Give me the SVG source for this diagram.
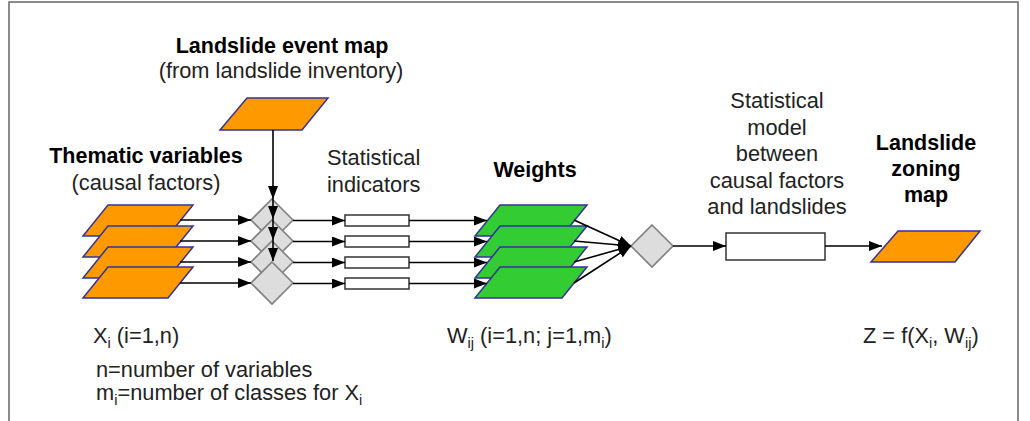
<svg xmlns="http://www.w3.org/2000/svg" width="1030" height="421" viewBox="0 0 1030 421">
<defs>
<marker id="ah" markerUnits="userSpaceOnUse" markerWidth="13" markerHeight="10" refX="13" refY="5" orient="auto">
<path d="M0,0 L13,5 L0,10 z" fill="#000"/>
</marker>
<style>
.or{fill:#FF9900;stroke:#333399;stroke-width:1.5}
.gr{fill:#33CC33;stroke:#333399;stroke-width:1.5}
.dm{fill:#DDDDDD;stroke:#808080;stroke-width:1.6}
.bx{fill:#fff;stroke:#333;stroke-width:1.5}
.cn{stroke:#000;stroke-width:1.6;fill:none;marker-end:url(#ah)}
text{font-family:"Liberation Sans",Arial,sans-serif;font-size:21.8px;fill:#222}
.b{font-weight:bold;font-size:21.5px;fill:#000}
.m{text-anchor:middle}
.s{font-size:14.5px}
</style>
</defs>
<rect width="1030" height="421" fill="#fff"/>
<path d="M9,421 V2 H1018 V421" fill="none" stroke="#666" stroke-width="1.5"/>

<g id="event-map">
<polygon class="or" points="247,98 328,98 302,130 220,130"/>
<text class="b m" x="282" y="53">Landslide event map</text>
<text class="m" x="281" y="78">(from landslide inventory)</text>
</g>

<g id="thematic">
<polygon class="or" points="108,205 193,205 168,236 83,236"/>
<polygon class="or" points="108,226 193,226 168,257 83,257"/>
<polygon class="or" points="108,247 193,247 168,278 83,278"/>
<polygon class="or" points="108,267 193,267 168,298 83,298"/>
<text class="b m" x="146" y="163">Thematic variables</text>
<text class="m" x="146" y="190">(causal factors)</text>
</g>

<g id="overlay-diamonds">
<polygon class="dm" points="272,199 293,220 272,241 251,220"/>
<polygon class="dm" points="272,220 293,241 272,262 251,241"/>
<polygon class="dm" points="272,241 293,262 272,283 251,262"/>
<polygon class="dm" points="272,262 293,283 272,304 251,283"/>
</g>

<g id="indicators">
<rect class="bx" x="345" y="215" width="64" height="11"/>
<rect class="bx" x="345" y="236" width="64" height="11"/>
<rect class="bx" x="345" y="257" width="64" height="11"/>
<rect class="bx" x="345" y="278" width="64" height="11"/>
<text x="327" y="165">Statistical</text>
<text x="327" y="192">indicators</text>
</g>

<g id="weights">
<polygon class="gr" points="500,205 587,205 562,236 475,236"/>
<polygon class="gr" points="500,226 587,226 562,257 475,257"/>
<polygon class="gr" points="500,247 587,247 562,278 475,278"/>
<polygon class="gr" points="500,267 587,267 562,298 475,298"/>
<text class="b m" x="535" y="177">Weights</text>
</g>

<g id="combine">
<polygon class="dm" points="652,225 673,246 652,267 631,246"/>
</g>

<g id="model">
<rect class="bx" x="726" y="233" width="99" height="27"/>
<text class="m" x="777" y="108">Statistical</text>
<text class="m" x="777" y="134.5">model</text>
<text class="m" x="777" y="161">between</text>
<text class="m" x="777" y="187.5">causal factors</text>
<text class="m" x="777" y="214">and landslides</text>
</g>

<g id="zoning">
<polygon class="or" points="898,231 980,231 955,262 871,262"/>
<text class="b m" x="926" y="150">Landslide</text>
<text class="b m" x="926" y="176">zoning</text>
<text class="b m" x="926" y="202">map</text>
</g>

<g id="connectors">
<line class="cn" x1="273" y1="130" x2="273" y2="199"/>
<line class="cn" x1="273" y1="199" x2="273" y2="219"/>
<line class="cn" x1="273" y1="219" x2="273" y2="240"/>
<line class="cn" x1="273" y1="240" x2="273" y2="261"/>
<line class="cn" x1="180" y1="220" x2="251" y2="220"/>
<line class="cn" x1="180" y1="241" x2="251" y2="241"/>
<line class="cn" x1="180" y1="262" x2="251" y2="262"/>
<line class="cn" x1="180" y1="283" x2="251" y2="283"/>
<line class="cn" x1="293" y1="220.5" x2="345" y2="220.5"/>
<line class="cn" x1="293" y1="241.5" x2="345" y2="241.5"/>
<line class="cn" x1="293" y1="262.5" x2="345" y2="262.5"/>
<line class="cn" x1="293" y1="283.5" x2="345" y2="283.5"/>
<line class="cn" x1="409" y1="220.5" x2="487" y2="220.5"/>
<line class="cn" x1="409" y1="241.5" x2="487" y2="241.5"/>
<line class="cn" x1="409" y1="262.5" x2="487" y2="262.5"/>
<line class="cn" x1="409" y1="283.5" x2="487" y2="283.5"/>
<line class="cn" x1="574" y1="220" x2="631" y2="246"/>
<line class="cn" x1="574" y1="241" x2="631" y2="246"/>
<line class="cn" x1="574" y1="262" x2="631" y2="246"/>
<line class="cn" x1="574" y1="283" x2="631" y2="246"/>
<line class="cn" x1="673" y1="246" x2="726" y2="246"/>
<line class="cn" x1="825" y1="246" x2="882" y2="246"/>
</g>

<g id="notes">
<text x="93" y="343">X<tspan class="s" dy="5">i</tspan><tspan dy="-5"> (i=1,n)</tspan></text>
<text x="96" y="377">n=number of variables</text>
<text x="96" y="400">m<tspan class="s" dy="5">i</tspan><tspan dy="-5">=number of classes for X</tspan><tspan class="s" dy="5">i</tspan></text>
<text x="447" y="343">W<tspan class="s" dy="5">ij</tspan><tspan dy="-5"> (i=1,n; j=1,m</tspan><tspan class="s" dy="5">i</tspan><tspan dy="-5">)</tspan></text>
<text x="863" y="343">Z = f(X<tspan class="s" dy="5">i</tspan><tspan dy="-5">, W</tspan><tspan class="s" dy="5">ij</tspan><tspan dy="-5">)</tspan></text>
</g>
</svg>
